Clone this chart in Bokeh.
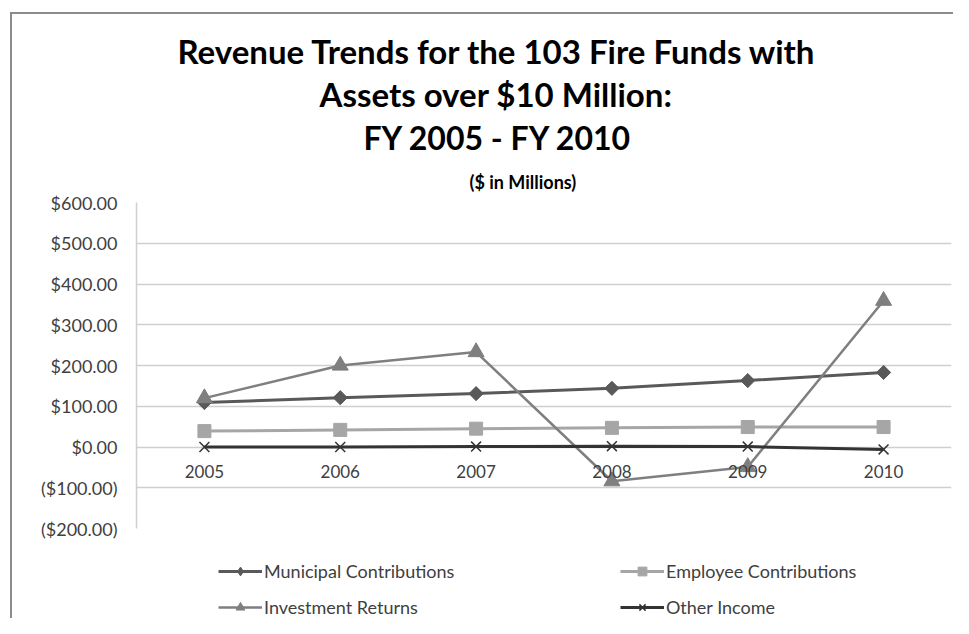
from bokeh.plotting import figure
from bokeh.layouts import column
from bokeh.models import (ColumnDataSource, FactorRange, Range1d, CategoricalAxis, FixedTicker,
                          NumeralTickFormatter, Title, Legend, LegendItem)
from bokeh.embed import file_html
from bokeh.resources import INLINE

years = ["2005", "2006", "2007", "2008", "2009", "2010"]
municipal = [109, 121, 131, 144, 163, 183]
employee = [39, 42, 45, 47, 49, 49]
investment = [120, 200, 233, -84, -49, 359]
other = [0, 0, 1, 2, 1, -6]
y_ticks = [-200, -100, 0, 100, 200, 300, 400, 500, 600]

title_lines = ["Revenue Trends for the 103 Fire Funds with", "Assets over $10 Million:", "FY 2005 - FY 2010"]
subtitle = "($ in Millions)"

FONT = "Lato"

p = figure(width=953, height=561, x_range=FactorRange(factors=years), y_range=Range1d(-200, 600),
           output_backend="svg", toolbar_location=None, x_axis_location=None, title_location=None,
           min_border_left=136, min_border_right=2, min_border_top=202, min_border_bottom=33)
p.outline_line_color = None
p.background_fill_color = "white"
p.border_fill_alpha = 0

# y axis
p.yaxis.ticker = FixedTicker(ticks=y_ticks)
p.yaxis.formatter = NumeralTickFormatter(format="($0,0.00)")
p.yaxis.major_tick_line_color = None
p.yaxis.minor_tick_line_color = None
p.yaxis.axis_line_color = "#cfcfcf"
p.yaxis.axis_line_width = 1.5
p.yaxis.major_label_standoff = 13
p.yaxis.major_label_text_font = FONT
p.yaxis.major_label_text_font_size = "18px"
p.yaxis.major_label_text_color = "#404040"
p.ygrid.grid_line_color = "#cfcfcf"
p.ygrid.grid_line_width = 1.5
p.xgrid.visible = False

# category axis crossing at zero
xax = CategoricalAxis(fixed_location=0)
xax.axis_line_color = None
xax.major_tick_line_color = None
xax.minor_tick_line_color = None
xax.major_label_standoff = 12
xax.major_label_text_font = FONT
xax.major_label_text_font_size = "17px"
xax.major_label_text_color = "#404040"
p.add_layout(xax, "below")

src = ColumnDataSource(dict(year=years, municipal=municipal, employee=employee,
                            investment=investment, other=other))

series = [
    ("Municipal Contributions", "municipal", "#595959", "square", 10, 0.785398, 3, "diamond"),
    ("Employee Contributions", "employee", "#a6a6a6", "square", 13, 0, 3, "square"),
    ("Investment Returns", "investment", "#7f7f7f", "triangle", 16, 0, 2.5, "triangle"),
    ("Other Income", "other", "#333333", "x", 14, 0, 3, "x"),
]
for name, col, color, marker, size, angle, lw, lmarker in series:
    p.line("year", col, source=src, line_color=color, line_width=lw)
    p.scatter("year", col, source=src, marker=marker, size=size, angle=angle,
              fill_color=color, line_color=color, line_width=1.5 if marker == "x" else 1)

# titles (first added sits closest to the plot)
p.add_layout(Title(text=subtitle, align="left", offset=333, text_font=FONT, text_font_style="bold",
                   text_font_size="18px", text_color="black", standoff=20), "above")
for txt, off, fs, st in zip(reversed(title_lines), [227, 183, 41], ["32px", "33px", "33px"], [3, 1, 1]):
    p.add_layout(Title(text=txt, align="left", offset=off, text_font=FONT, text_font_style="bold",
                       text_font_size=fs, text_color="black", standoff=st), "above")

# legend strip below the chart (same series, drawn outside its visible range)
lg = figure(width=953, height=57, x_range=FactorRange(factors=years), y_range=Range1d(5000, 5001),
            output_backend="svg", toolbar_location=None, x_axis_location=None, y_axis_location=None,
            title_location=None, min_border=0)
lg.outline_line_color = None
lg.background_fill_alpha = 0
lg.border_fill_alpha = 0
lg.grid.visible = False
items = {}
for name, col, color, marker, size, angle, lw, lmarker in series:
    l = lg.line("year", col, source=src, line_color=color, line_width=lw)
    s = lg.scatter("year", col, source=src, marker=lmarker, size=size,
                   fill_color=color, line_color=color, line_width=1.5 if marker == "x" else 1)
    items[name] = LegendItem(label=name, renderers=[l, s])

for names, vx in [(["Municipal Contributions", "Investment Returns"], 82),
                  (["Employee Contributions", "Other Income"], 484)]:
    lg.add_layout(Legend(items=[items[n] for n in names], location=(vx, 0), orientation="vertical",
                         glyph_width=44, glyph_height=22, label_height=22, spacing=14,
                         padding=0, margin=0, label_standoff=2,
                         label_text_font=FONT, label_text_font_size="18px", label_text_color="#404040",
                         border_line_color=None, background_fill_alpha=0), "center")

layout = column(p, lg, spacing=0)
layout.styles = {"box-shadow": "inset 10px 12px 0 0 white, inset 12px 14px 0 0 #8c8c8c",
                 "background-color": "white"}

open("out.html", "w").write(file_html(layout, INLINE))
